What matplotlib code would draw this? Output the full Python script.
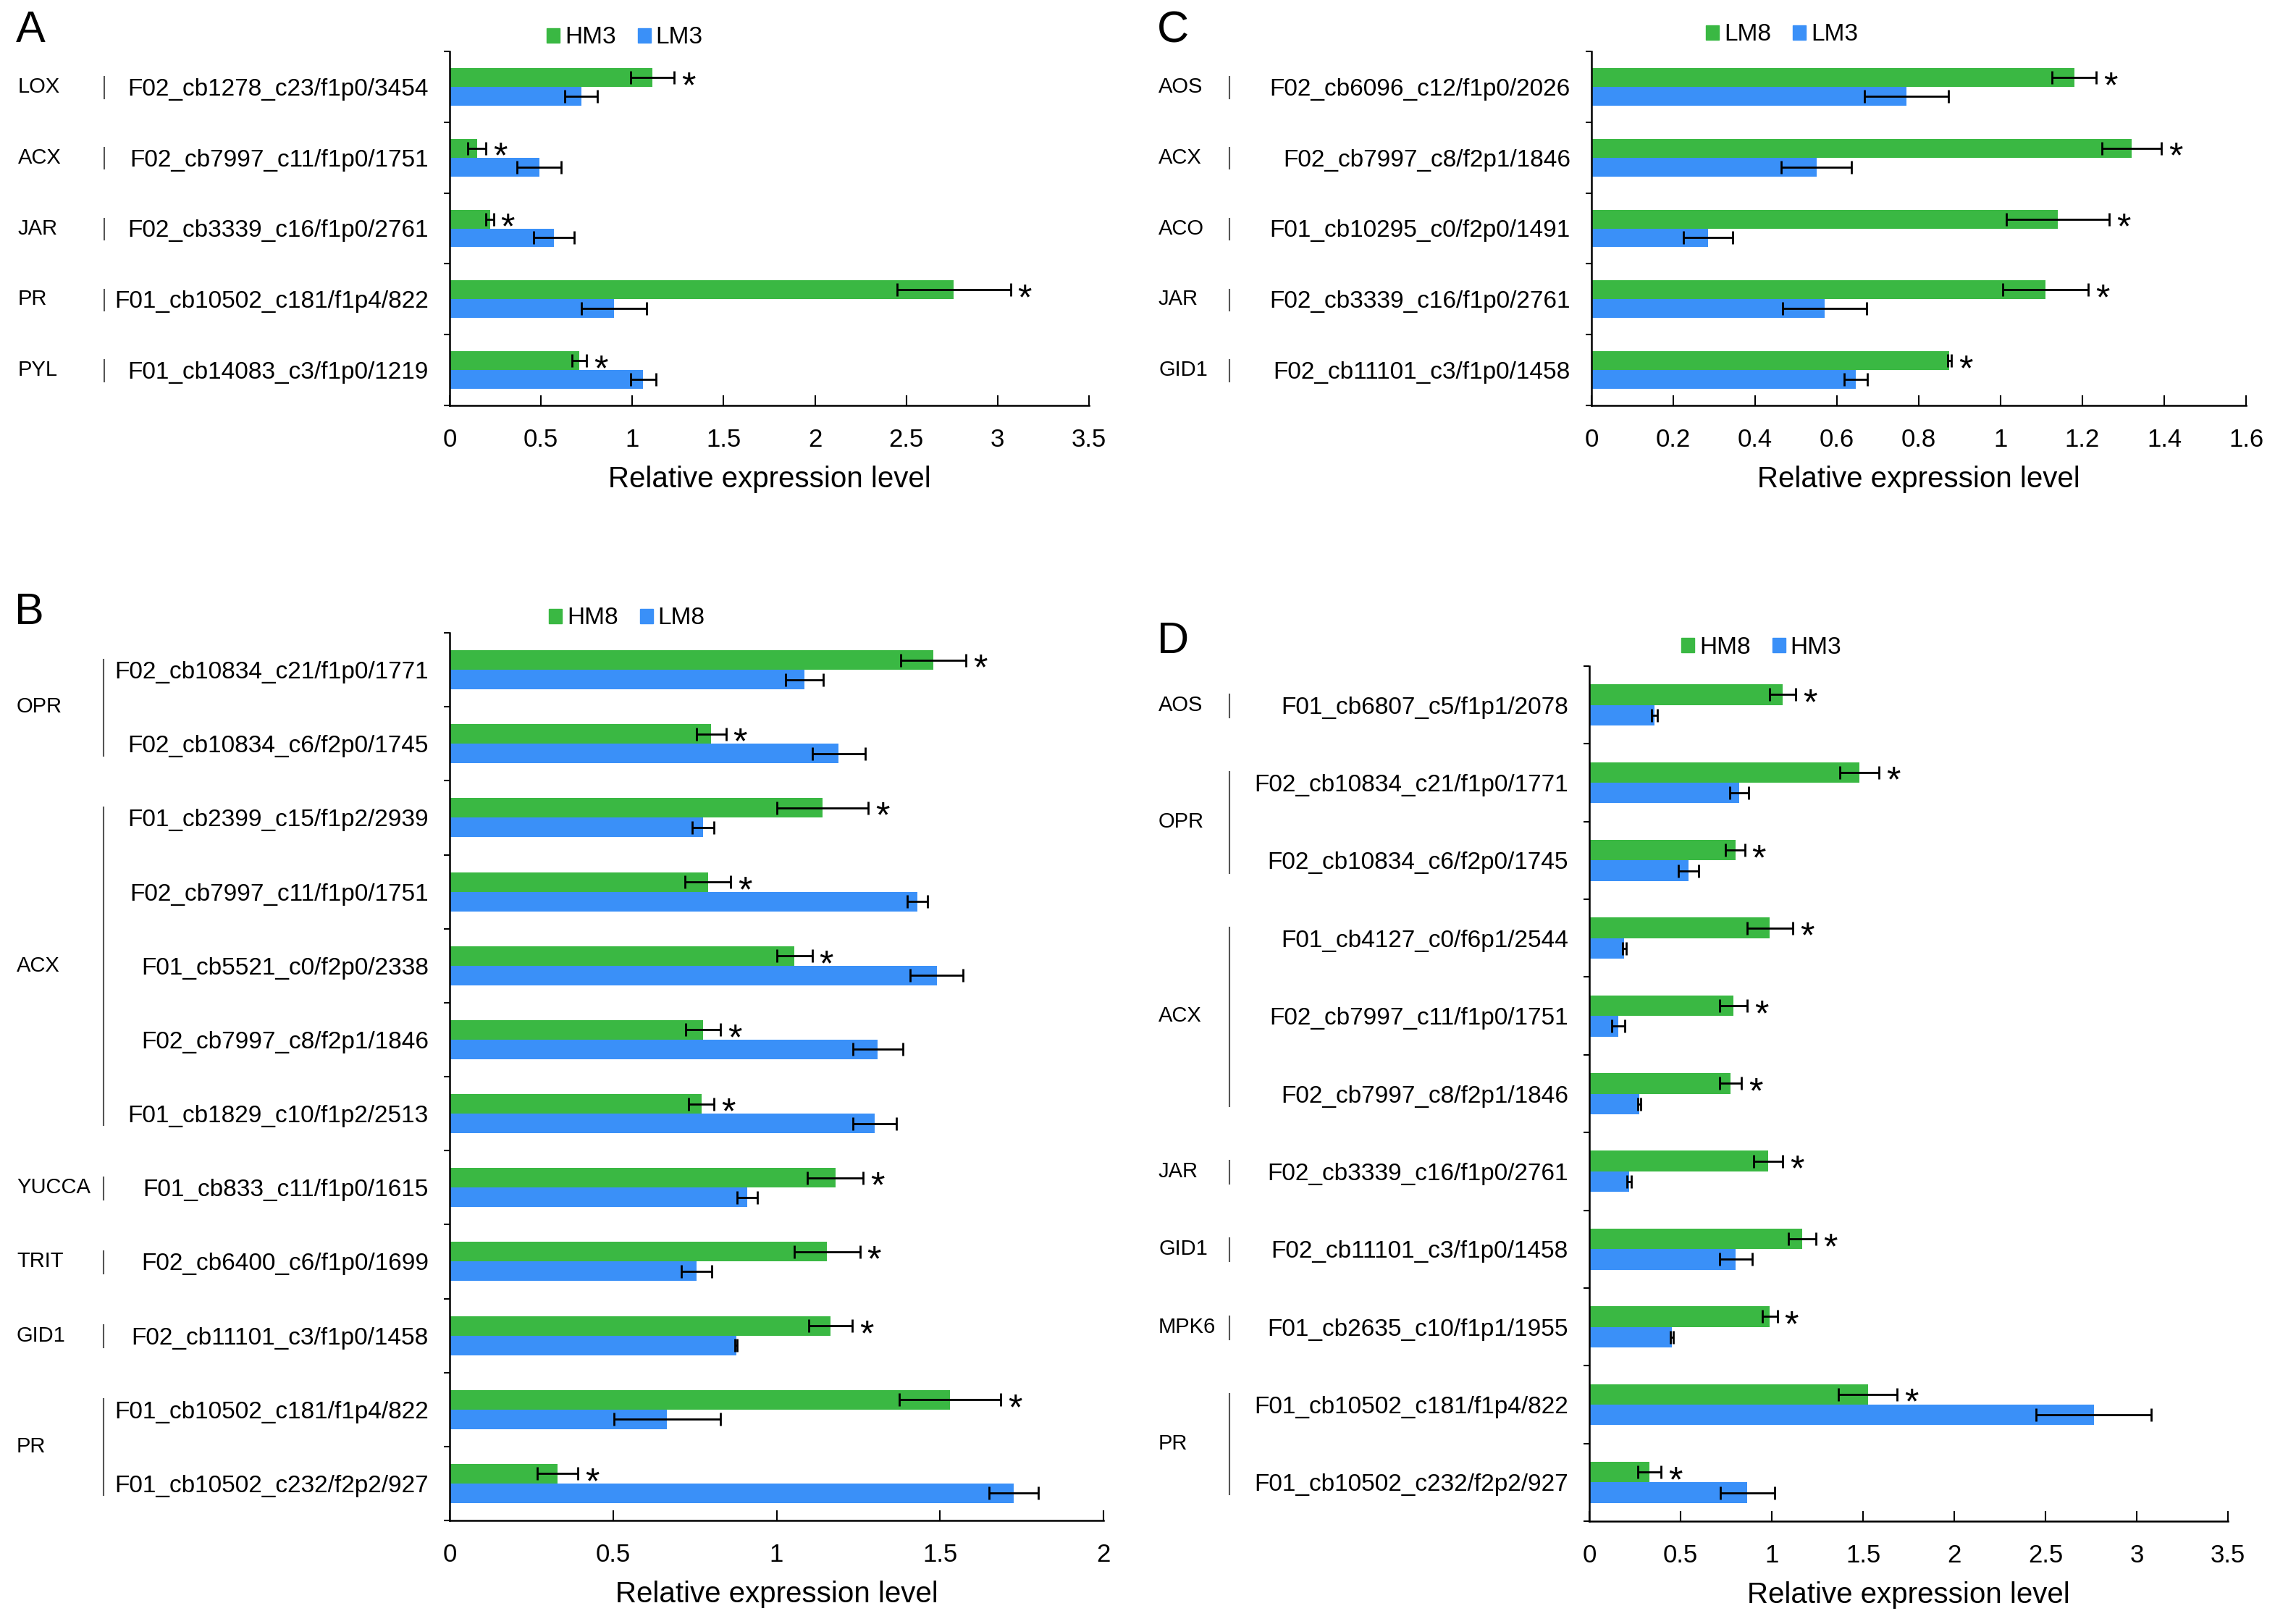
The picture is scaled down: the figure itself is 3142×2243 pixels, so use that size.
import matplotlib
matplotlib.use('Agg')
import numpy as np
import matplotlib.pyplot as plt
from matplotlib import transforms
from matplotlib.patches import Patch
from itertools import groupby

plt.rcParams['font.family'] = ['Liberation Sans', 'DejaVu Sans']

GREEN = '#3AB843'
BLUE = '#3A90F8'

# ---- A: HM3 vs LM3
a_family = ['LOX', 'ACX', 'JAR', 'PR', 'PYL']
a_genes = ['F02_cb1278_c23/f1p0/3454', 'F02_cb7997_c11/f1p0/1751', 'F02_cb3339_c16/f1p0/2761',
           'F01_cb10502_c181/f1p4/822', 'F01_cb14083_c3/f1p0/1219']
a_hm3 = [1.11, 0.15, 0.22, 2.76, 0.71]
a_hm3_err = [0.12, 0.05, 0.02, 0.31, 0.04]
a_lm3 = [0.72, 0.49, 0.57, 0.90, 1.06]
a_lm3_err = [0.09, 0.12, 0.11, 0.18, 0.07]

# ---- B: HM8 vs LM8
b_family = ['OPR', 'OPR', 'ACX', 'ACX', 'ACX', 'ACX', 'ACX', 'YUCCA', 'TRIT', 'GID1', 'PR', 'PR']
b_genes = ['F02_cb10834_c21/f1p0/1771', 'F02_cb10834_c6/f2p0/1745', 'F01_cb2399_c15/f1p2/2939',
           'F02_cb7997_c11/f1p0/1751', 'F01_cb5521_c0/f2p0/2338', 'F02_cb7997_c8/f2p1/1846',
           'F01_cb1829_c10/f1p2/2513', 'F01_cb833_c11/f1p0/1615', 'F02_cb6400_c6/f1p0/1699',
           'F02_cb11101_c3/f1p0/1458', 'F01_cb10502_c181/f1p4/822', 'F01_cb10502_c232/f2p2/927']
b_hm8 = [1.48, 0.80, 1.14, 0.79, 1.055, 0.775, 0.77, 1.18, 1.155, 1.165, 1.53, 0.33]
b_hm8_err = [0.10, 0.045, 0.14, 0.07, 0.054, 0.054, 0.038, 0.085, 0.10, 0.067, 0.155, 0.063]
b_lm8 = [1.085, 1.19, 0.775, 1.43, 1.49, 1.31, 1.30, 0.91, 0.755, 0.876, 0.665, 1.725]
b_lm8_err = [0.058, 0.081, 0.034, 0.031, 0.081, 0.076, 0.067, 0.031, 0.047, 0.004, 0.163, 0.076]

# ---- C: LM8 vs LM3
c_family = ['AOS', 'ACX', 'ACO', 'JAR', 'GID1']
c_genes = ['F02_cb6096_c12/f1p0/2026', 'F02_cb7997_c8/f2p1/1846', 'F01_cb10295_c0/f2p0/1491',
           'F02_cb3339_c16/f1p0/2761', 'F02_cb11101_c3/f1p0/1458']
c_lm8 = [1.18, 1.32, 1.14, 1.11, 0.875]
c_lm8_err = [0.054, 0.073, 0.125, 0.105, 0.005]
c_lm3 = [0.77, 0.55, 0.285, 0.57, 0.646]
c_lm3_err = [0.103, 0.086, 0.061, 0.103, 0.029]

# ---- D: HM8 vs HM3
d_family = ['AOS', 'OPR', 'OPR', 'ACX', 'ACX', 'ACX', 'JAR', 'GID1', 'MPK6', 'PR', 'PR']
d_genes = ['F01_cb6807_c5/f1p1/2078', 'F02_cb10834_c21/f1p0/1771', 'F02_cb10834_c6/f2p0/1745',
           'F01_cb4127_c0/f6p1/2544', 'F02_cb7997_c11/f1p0/1751', 'F02_cb7997_c8/f2p1/1846',
           'F02_cb3339_c16/f1p0/2761', 'F02_cb11101_c3/f1p0/1458', 'F01_cb2635_c10/f1p1/1955',
           'F01_cb10502_c181/f1p4/822', 'F01_cb10502_c232/f2p2/927']
d_hm8 = [1.06, 1.48, 0.80, 0.99, 0.79, 0.775, 0.98, 1.167, 0.99, 1.526, 0.328]
d_hm8_err = [0.072, 0.108, 0.052, 0.124, 0.076, 0.06, 0.08, 0.076, 0.04, 0.16, 0.064]
d_hm3 = [0.356, 0.82, 0.543, 0.192, 0.16, 0.272, 0.22, 0.803, 0.451, 2.765, 0.867]
d_hm3_err = [0.016, 0.052, 0.056, 0.01, 0.036, 0.008, 0.012, 0.088, 0.008, 0.316, 0.148]

W, H = 3142, 2243
fig = plt.figure(figsize=(W / 100, H / 100), dpi=100)


def panel(box, letter, letter_xy, fam_x, sep_x, leg_xy, families, genes,
          v1, e1, v2, e2, names, xmax, xstep):
    l, t, r, b = box
    ax = fig.add_axes([l / W, 1 - b / H, (r - l) / W, (b - t) / H])
    n = len(genes)
    y = np.arange(n)
    bh = 0.265
    ekw = dict(ecolor='black', elinewidth=2, capsize=6.5, capthick=2)
    ax.barh(y - bh / 2, v1, height=bh, color=GREEN, xerr=e1, error_kw=ekw, zorder=2)
    ax.barh(y + bh / 2, v2, height=bh, color=BLUE, xerr=e2, error_kw=ekw, zorder=2)

    star_tr = transforms.offset_copy(ax.transData, fig=fig, x=10, y=-27, units='dots')
    for i in range(n):
        ax.text(v1[i] + e1[i], y[i] - bh / 2, '*', transform=star_tr,
                ha='left', va='baseline', fontsize=36)

    ax.set_xlim(0, xmax)
    ax.set_ylim(n - 0.5, -0.5)
    ticks = np.round(np.arange(0, xmax + xstep / 2, xstep), 2)
    ax.set_xticks(ticks)
    ax.set_xticklabels([f'{v:g}' for v in ticks])
    ax.tick_params(axis='x', direction='in', length=10, width=1.5, labelsize=25, pad=22)
    ax.set_yticks(y)
    ax.set_yticklabels(genes)
    ax.tick_params(axis='y', length=0, labelsize=24, pad=21)
    ax.set_yticks(np.arange(n + 1) - 0.5, minor=True)
    ax.tick_params(axis='y', which='minor', direction='out', length=6, width=1.5)
    for s in ['top', 'right']:
        ax.spines[s].set_visible(False)
    for s in ['left', 'bottom']:
        ax.spines[s].set_linewidth(1.8)
    ax.set_xlabel('Relative expression level', fontsize=29, labelpad=14)

    # gene family labels and separators
    tr = transforms.blended_transform_factory(fig.transFigure, ax.transData)
    start = 0
    for fam, grp in groupby(families):
        k = len(list(grp))
        first, last = start, start + k - 1
        ax.text(fam_x / W, (first + last) / 2, fam, transform=tr,
                ha='left', va='center', fontsize=21)
        ax.plot([sep_x / W, sep_x / W], [first - 0.14, last + 0.16], transform=tr,
                color='#555555', lw=1.5, clip_on=False)
        start += k

    fig.text(letter_xy[0] / W, 1 - letter_xy[1] / H, letter, fontsize=44,
             ha='left', va='center')
    fig.legend(handles=[Patch(color=GREEN, label=names[0]), Patch(color=BLUE, label=names[1])],
               loc='center left', bbox_to_anchor=(leg_xy[0] / W, 1 - leg_xy[1] / H),
               ncol=2, frameon=False, fontsize=24, handlelength=0.55, handleheight=0.55,
               handletextpad=0.2, columnspacing=0.9, borderpad=0, borderaxespad=0)
    return ax


panel((621, 71, 1504, 560), 'A', (22, 42), 25, 144, (755, 52),
      a_family, a_genes, a_hm3, a_hm3_err, a_lm3, a_lm3_err, ('HM3', 'LM3'), 3.5, 0.5)
panel((621, 874, 1524, 2100), 'B', (20, 846), 23, 143, (758, 854),
      b_family, b_genes, b_hm8, b_hm8_err, b_lm8, b_lm8_err, ('HM8', 'LM8'), 2, 0.5)
panel((2198, 71, 3102, 560), 'C', (1598, 43), 1600, 1698, (2356, 48),
      c_family, c_genes, c_lm8, c_lm8_err, c_lm3, c_lm3_err, ('LM8', 'LM3'), 1.6, 0.2)
panel((2195, 920, 3077, 2101), 'D', (1598, 886), 1600, 1698, (2322, 894),
      d_family, d_genes, d_hm8, d_hm8_err, d_hm3, d_hm3_err, ('HM8', 'HM3'), 3.5, 0.5)

fig.savefig('out.png', dpi=100)
